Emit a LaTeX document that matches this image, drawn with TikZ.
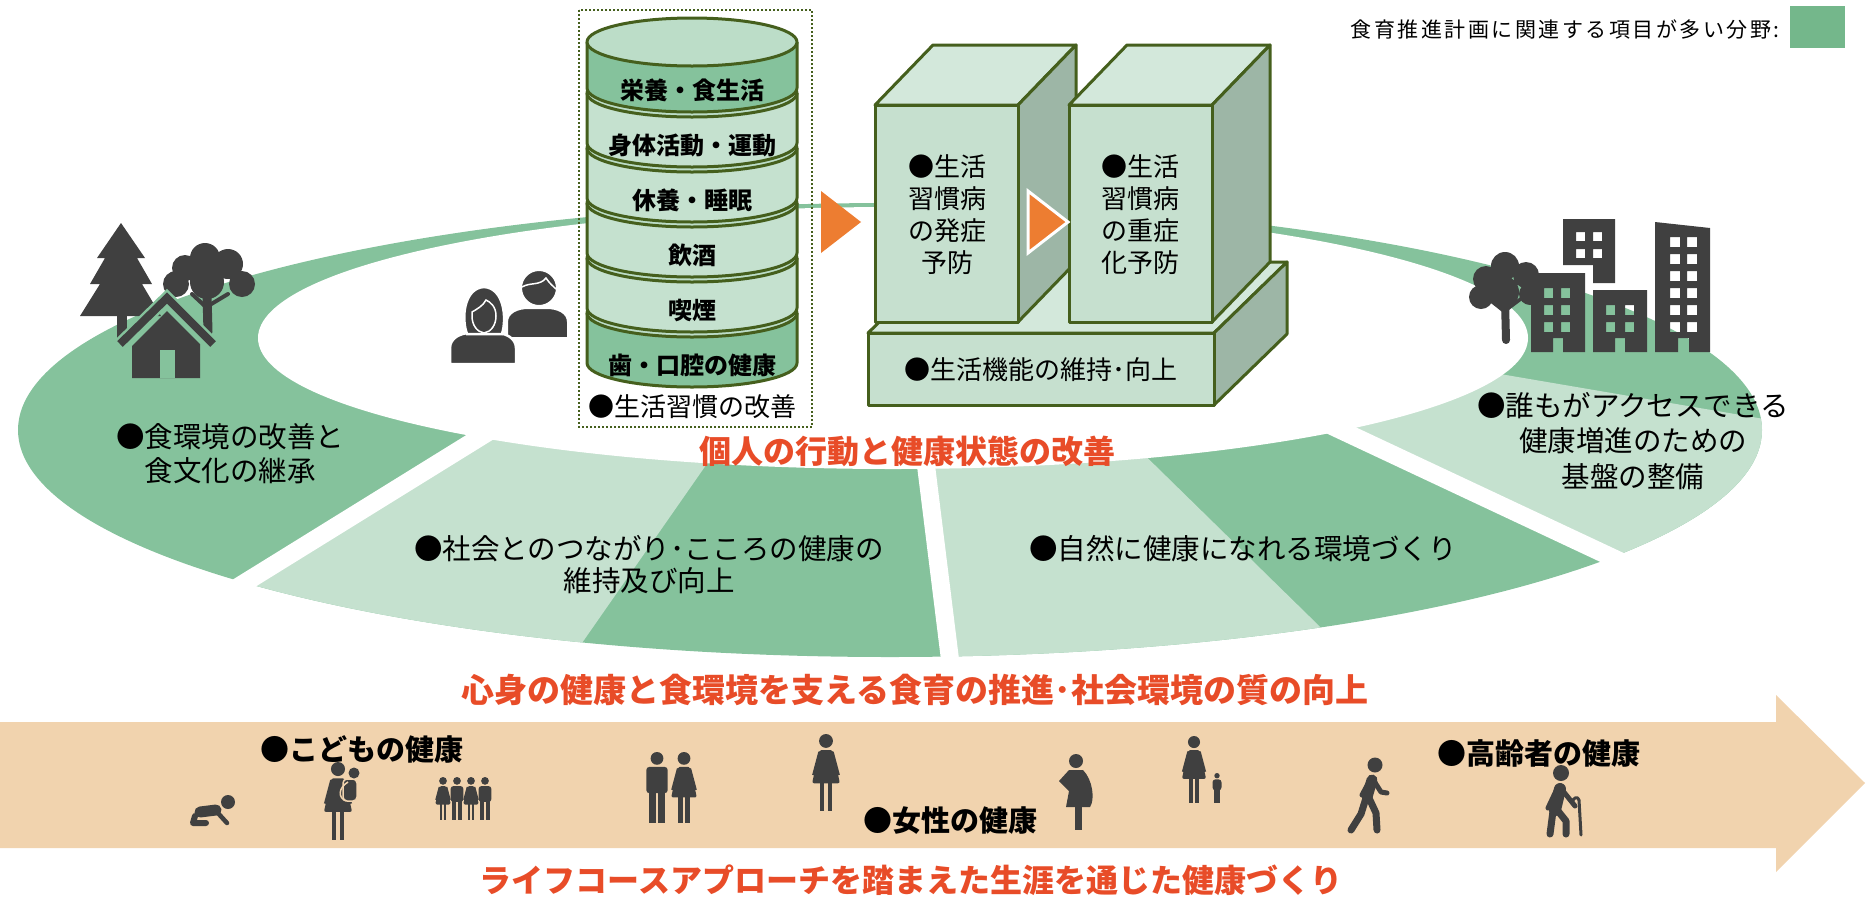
\documentclass[tikz,border=0pt]{standalone}
\usepackage{fontspec}
\newfontfamily\jp{Noto Sans CJK JP}
\newfontfamily\jpspaced[LetterSpace=12]{Noto Sans CJK JP}
\definecolor{ringM}{HTML}{85C29C}
\definecolor{ringL}{HTML}{C5E1CF}
\definecolor{keyM}{HTML}{74B78B}
\definecolor{oliveline}{HTML}{455F1D}
\definecolor{cylTop}{HTML}{BCDDC8}
\definecolor{cubeFront}{HTML}{C6E0CF}
\definecolor{cubeTop}{HTML}{D3E8DB}
\definecolor{cubeSide}{HTML}{9DB6A6}
\definecolor{orangeA}{HTML}{ED7D31}
\definecolor{redtxt}{HTML}{E84C28}
\definecolor{arrowTan}{HTML}{F1D3AE}
\definecolor{icongray}{HTML}{404040}
\tikzset{
  manfig/.pic={
    \fill[icongray] (0,9) circle (9pt);
    \fill[icongray,rounded corners=3pt] (-15,21) rectangle (15,58);
    \fill[icongray] (-11,55) rectangle (-1.5,100);
    \fill[icongray] (1.5,55) rectangle (11,100);
  },
  womanfig/.pic={
    \fill[icongray] (0,9) circle (9pt);
    \fill[icongray,rounded corners=2pt] (-9,21) -- (9,21) -- (18,64) -- (-18,64) -- cycle;
    \fill[icongray] (-8,62) rectangle (-2,100);
    \fill[icongray] (2,62) rectangle (8,100);
    \fill[icongray] (-10,23) -- (-7,23) -- (-14,54) -- (-18,53) -- cycle;
    \fill[icongray] (10,23) -- (7,23) -- (14,54) -- (18,53) -- cycle;
  },
}
\begin{document}
\begin{tikzpicture}[x=1pt,y=-1pt,
  oline/.style={draw=oliveline, line width=3pt, line join=round},
  ringlbl/.style={font=\jp\fontsize{28.5}{34}\selectfont, align=center, inner sep=0pt},
  redlbl/.style={font=\jp\bfseries\fontsize{32}{36}\selectfont, text=redtxt, inner sep=0pt},
  bandlbl/.style={font=\jp\bfseries\fontsize{24}{28}\selectfont, inner sep=0pt},
  cubelbl/.style={font=\jp\fontsize{26}{32}\selectfont, align=center, inner sep=0pt},
  lifelbl/.style={font=\jp\bfseries\fontsize{29}{32}\selectfont, inner sep=0pt},
  gapline/.style={draw=white, line width=18pt},
  stroke/.style={draw=icongray, line cap=round, line join=round},
]
\useasboundingbox (0,0) rectangle (1871,898);

% ---------------- ring of environment fields ----------------
\fill[ringM] (890,430) ellipse [x radius=872pt, y radius=227pt];
\begin{scope}
  \clip (890,430) ellipse [x radius=872pt, y radius=227pt];
  \fill[ringL] (540,400) -- (727,435) -- (552,686) -- (170,631) -- cycle;
  \fill[ringL] (921,425) -- (1119,430) -- (1357,663) -- (955,700) -- cycle;
  \fill[ringL] (1300,411) -- (1418,360) -- (1811,427) -- (1811,640) -- (1645,573) -- cycle;
\end{scope}
\fill[white] (893,338) ellipse [x radius=635pt, y radius=131pt];
\coordinate (g1a) at (540,400); \coordinate (g1b) at (170,629);
\coordinate (g2a) at (921,425); \coordinate (g2b) at (955,700);
\coordinate (g3a) at (1300,411); \coordinate (g3b) at (1660,580);
\draw[gapline] (g1a) -- (g1b);
\draw[gapline] (g2a) -- (g2b);
\draw[gapline] (g3a) -- (g3b);

% ---------------- trees and house (left) ----------------
\fill[icongray] (121,223) -- (145,258) -- (137,258) -- (152,284) -- (142,284) -- (161,316)
  -- (80,316) -- (100,284) -- (90,284) -- (105,258) -- (97,258) -- cycle;
\fill[icongray] (117,314) rectangle (127,338);
\fill[icongray] (205,258) circle (15pt) (185,268) circle (13pt) (228,264) circle (15pt)
  (176,284) circle (13pt) (242,284) circle (13pt) (207,282) circle (17pt);
\draw[stroke, line width=9pt] (207,294) -- (208,332);
\draw[stroke, line width=4pt] (207,308) -- (192,294);
\draw[stroke, line width=4pt] (208,306) -- (228,294);
\fill[icongray] (132,378) -- (132,346) -- (167,311) -- (200,344) -- (200,378) -- cycle;
\fill[ringM] (160,350) rectangle (175,378);
\draw[draw=ringM, line width=13pt, line join=miter] (120,344) -- (167,298) -- (213,344);
\draw[draw=icongray, line width=8pt, line join=miter] (120,344) -- (167,298) -- (213,344);

% ---------------- two people ----------------
\filldraw[fill=icongray, draw=white, line width=2pt] (507,338) -- (507,322) to[out=90,in=180] (528,308) -- (547,308) to[out=0,in=90] (568,322) -- (568,338) -- cycle;
\filldraw[fill=icongray, draw=white, line width=2pt] (539,288) circle (18pt);
\draw[white, line width=1.5pt] (522,287) .. controls (530,282) and (540,286) .. (546,278) .. controls (550,284) and (553,286) .. (556,289);
\filldraw[fill=icongray, draw=white, line width=2.5pt] (450,364) -- (450,348) to[out=90,in=180] (470,333) -- (496,333) to[out=0,in=90] (516,348) -- (516,364) -- cycle;
\filldraw[fill=icongray, draw=white, line width=2.5pt] (467,334) .. controls (461,318) and (464,288) .. (484,287) .. controls (504,288) and (507,318) .. (502,334) -- cycle;
\draw[white, line width=1.5pt] (472,316) .. controls (472,325) and (477,332) .. (484,333) .. controls (491,332) and (496,325) .. (496,316) .. controls (496,306) and (490,302) .. (486,300) .. controls (483,306) and (477,309) .. (472,312) -- cycle;

% ---------------- city with tree (right) ----------------
\fill[icongray] (1505,266) circle (14pt) (1486,279) circle (13pt) (1526,275) circle (13pt)
  (1481,297) circle (12pt) (1503,292) circle (16pt) (1530,294) circle (11pt);
\draw[stroke, line width=8pt] (1505,300) -- (1506,340);
\draw[stroke, line width=3.5pt] (1505,312) -- (1490,300);
\draw[stroke, line width=3.5pt] (1506,310) -- (1522,298);
\fill[icongray, even odd rule] (1531,273) -- (1585,273) -- (1585,352) -- (1563,352) -- (1563,338) -- (1553,338) -- (1553,352) -- (1531,352) -- cycle
  (1544,288) rectangle (1553,298) (1561,288) rectangle (1570,298)
  (1544,305) rectangle (1553,315) (1561,305) rectangle (1570,315)
  (1544,322) rectangle (1553,332) (1561,322) rectangle (1570,332);
\fill[icongray, even odd rule] (1563,219) -- (1615,219) -- (1615,283) -- (1593,283) -- (1593,265) -- (1563,265) -- cycle
  (1576,232) rectangle (1585,241) (1593,232) rectangle (1602,241)
  (1576,249) rectangle (1585,258) (1593,249) rectangle (1602,258);
\fill[icongray, even odd rule] (1593,290) -- (1647,290) -- (1647,352) -- (1625,352) -- (1625,338) -- (1615,338) -- (1615,352) -- (1593,352) -- cycle
  (1606,305) rectangle (1615,315) (1625,305) rectangle (1634,315)
  (1606,322) rectangle (1615,332) (1625,322) rectangle (1634,332);
\fill[icongray, even odd rule] (1655,222) -- (1710,228) -- (1710,352) -- (1689,352) -- (1689,338) -- (1678,338) -- (1678,352) -- (1655,352) -- cycle
  (1670,237) rectangle (1680,247) (1687,237) rectangle (1697,247)
  (1670,254) rectangle (1680,264) (1687,254) rectangle (1697,264)
  (1670,271) rectangle (1680,281) (1687,271) rectangle (1697,281)
  (1670,288) rectangle (1680,298) (1687,288) rectangle (1697,298)
  (1670,305) rectangle (1680,315) (1687,305) rectangle (1697,315)
  (1670,322) rectangle (1680,332) (1687,322) rectangle (1697,332);

% ---------------- stack of lifestyle habits ----------------
\draw[oliveline, line width=2pt, dash pattern=on 2pt off 2pt] (579,10) rectangle (812,427);
\foreach \yt/\yb/\col in {313/363/ringM, 258/308/ringL, 203/253/ringL, 148/198/ringL, 93/143/ringL, 42/88/ringM} {
  \fill[\col] (587,\yt) -- (587,\yb) arc[start angle=180, end angle=360, x radius=105pt, y radius=24pt] -- (797,\yt) -- cycle;
  \draw[oline] (587,\yt) -- (587,\yb) arc[start angle=180, end angle=360, x radius=105pt, y radius=24pt] -- (797,\yt);
  \filldraw[fill=cylTop, oline] (692,\yt) ellipse [x radius=105pt, y radius=24pt];
}
\node[bandlbl] (b1) at (692,90) {栄養・食生活};
\node[bandlbl] (b2) at (692,145) {身体活動・運動};
\node[bandlbl] (b3) at (692,200) {休養・睡眠};
\node[bandlbl] (b4) at (692,255) {飲酒};
\node[bandlbl] (b5) at (692,310) {喫煙};
\node[bandlbl] (b6) at (692,365) {歯・口腔の健康};
\node[font=\jp\fontsize{26}{30}\selectfont, inner sep=0pt] (habits) at (692,407) {●生活習慣の改善};

% ---------------- blocks of disease prevention ----------------
\filldraw[fill=cubeTop, oline] (868,333) -- (941,262) -- (1287,262) -- (1214,333) -- cycle;
\filldraw[fill=cubeSide, oline] (1214,333) -- (1287,262) -- (1287,334) -- (1214,405) -- cycle;
\filldraw[fill=cubeFront, oline] (868,333) rectangle (1214,405);
\filldraw[fill=cubeTop, oline] (875,105) -- (933,45) -- (1076,45) -- (1018,105) -- cycle;
\filldraw[fill=cubeSide, oline] (1018,105) -- (1076,45) -- (1076,262) -- (1018,322) -- cycle;
\filldraw[fill=cubeFront, oline] (875,105) rectangle (1018,322);
\filldraw[fill=cubeTop, oline] (1069,105) -- (1127,45) -- (1270,45) -- (1212,105) -- cycle;
\filldraw[fill=cubeSide, oline] (1212,105) -- (1270,45) -- (1270,262) -- (1212,322) -- cycle;
\filldraw[fill=cubeFront, oline] (1069,105) rectangle (1212,322);
\fill[orangeA] (821,191) -- (861,222) -- (821,253) -- cycle;
\filldraw[fill=orangeA, draw=white, line width=3pt, line join=miter] (1028,191) -- (1068,222) -- (1028,253) -- cycle;
\node[cubelbl] (onset) at (947,215) {●生活\\習慣病\\の発症\\予防};
\node[cubelbl] (severe) at (1140,215) {●生活\\習慣病\\の重症\\化予防};
\node[font=\jp\fontsize{26}{30}\selectfont, inner sep=0pt] (func) at (1041,370) {●生活機能の維持･向上};

% ---------------- ring labels ----------------
\node[ringlbl] (foodenv) at (230,454) {●食環境の改善と\\食文化の継承};
\node[ringlbl, font=\jp\fontsize{28.5}{32}\selectfont] (social) at (649,565) {●社会とのつながり･こころの健康の\\維持及び向上};
\node[ringlbl] (natural) at (1243,549) {●自然に健康になれる環境づくり};
\node[ringlbl, font=\jp\fontsize{28.5}{35.5}\selectfont] (access) at (1633,441) {●誰もがアクセスできる\\健康増進のための\\基盤の整備};
\node[redlbl] (indiv) at (907,451) {個人の行動と健康状態の改善};
\node[redlbl, font=\jp\bfseries\fontsize{33}{36}\selectfont] (quality) at (915,690) {心身の健康と食環境を支える食育の推進･社会環境の質の向上};

% ---------------- legend ----------------
\node[font=\jpspaced\fontsize{21}{24}\selectfont, anchor=east, inner sep=0pt] (keytext) at (1780,30) {食育推進計画に関連する項目が多い分野:};
\fill[keyM] (1790,6) rectangle (1845,48);

% ---------------- life-course arrow ----------------
\fill[arrowTan] (0,722) -- (1776,722) -- (1776,695) -- (1865,783) -- (1776,872) -- (1776,848) -- (0,848) -- cycle;
\node[redlbl] (lifecourse) at (911,880) {ライフコースアプローチを踏まえた生涯を通じた健康づくり};
\node[lifelbl] (child) at (362,749) {●こどもの健康};
\node[lifelbl] (women) at (950,821) {●女性の健康};
\node[lifelbl] (elder) at (1539,753) {●高齢者の健康};

% crawling baby
\fill[icongray] (228,802) circle (7pt);
\draw[stroke, line width=11pt] (200,812) -- (216,810);
\draw[stroke, line width=6pt] (195,816) -- (193,823) -- (206,823);
\draw[stroke, line width=4.5pt] (217,812) -- (227,823);
% mother carrying a baby
\pic[scale=0.78] at (338,762) {womanfig};
\filldraw[fill=icongray, draw=arrowTan, line width=1.5pt, rounded corners=4pt] (343,779) rectangle (357,801);
\draw[arrowTan, line width=1.5pt] (348,782) .. controls (338,788) and (338,798) .. (346,801);
\fill[icongray] (354,773) circle (5.5pt);
% four children
\pic[scale=0.43] at (443,777) {womanfig};
\pic[scale=0.43] at (457,777) {manfig};
\pic[scale=0.43] at (471,777) {womanfig};
\pic[scale=0.43] at (485,777) {manfig};
% couple
\pic[scale=0.71] at (657,752) {manfig};
\pic[scale=0.71] at (684,752) {womanfig};
% woman
\pic[scale=0.77] at (826,734) {womanfig};
% pregnant woman
\fill[icongray] (1076,761) circle (7pt);
\fill[icongray] (1069,770) -- (1083,770) .. controls (1093,780) and (1095,800) .. (1090,807) -- (1066,807) -- (1069,791) -- (1059,781) -- cycle;
\fill[icongray] (1075,805) rectangle (1082,830);
% woman with a child
\pic[scale=0.67] at (1194,736) {womanfig};
\pic[scale=0.30] at (1217,773) {manfig};
% walking person
\fill[icongray] (1375,765) circle (7.5pt);
\draw[stroke, line width=11pt] (1372,780) -- (1367,797);
\draw[stroke, line width=7pt] (1366,798) -- (1361,814) -- (1351,830);
\draw[stroke, line width=7pt] (1369,798) -- (1376,813) -- (1377,830);
\draw[stroke, line width=5pt] (1374,781) -- (1381,792) -- (1387,793);
\draw[stroke, line width=5pt] (1369,782) -- (1362,795);
% elderly person with a cane
\fill[icongray] (1561,773) circle (8pt);
\draw[stroke, line width=12pt] (1560,789) -- (1555,810);
\draw[stroke, line width=7pt] (1553,811) -- (1550,834);
\draw[stroke, line width=7pt] (1558,811) -- (1566,821) -- (1566,834);
\draw[stroke, line width=5pt] (1556,791) -- (1548,808);
\draw[stroke, line width=5pt] (1563,791) -- (1575,806);
\draw[stroke, line width=3pt] (1579,800) -- (1581,835);
\draw[stroke, line width=3pt] (1572,803) .. controls (1573,797) and (1578,796) .. (1579,800);
\end{tikzpicture}
\end{document}
